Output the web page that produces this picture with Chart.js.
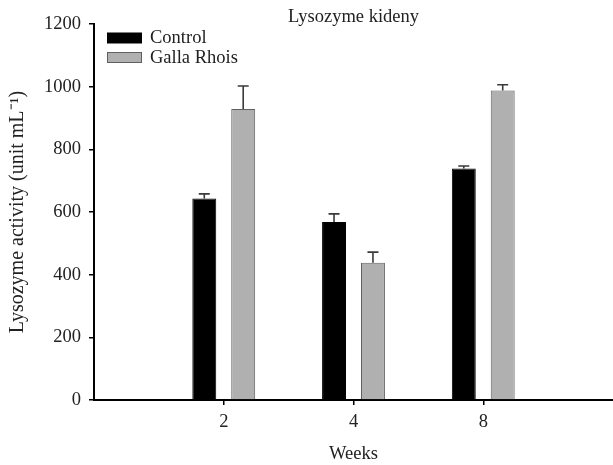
<!DOCTYPE html>
<html>
<head>
<meta charset="utf-8">
<script src="https://cdn.jsdelivr.net/npm/chart.js@4/dist/chart.umd.min.js"></script>
<style>
  html, body { margin: 0; padding: 0; background: #fff; }
  #wrap { width: 613px; height: 465px; position: relative; }
</style>
</head>
<body>
<div id="wrap"><canvas id="c" width="613" height="465"></canvas></div>
<script>
// ---- Data ----
const weeks = ['2', '4', '8'];
const weekPositions = [1, 2, 3];
const controlValues = [643, 568, 739];
const controlErrors = [15, 26, 8];
const gallaValues = [929, 438, 988];
const gallaErrors = [73, 34, 18];
const yTicks = [0, 200, 400, 600, 800, 1000, 1200];
const seriesNames = ['Control', 'Galla Rhois'];
const chartTitle = 'Lysozyme kideny';
const xTitle = 'Weeks';
const yTitle = 'Lysozyme activity (unit mL\u207B\u00B9)';

const FONT = '"Liberation Serif", "Times New Roman", serif';
const FS = 18.5;

const errorBarPlugin = {
  id: 'errorBars',
  afterDatasetsDraw(chart) {
    const ctx = chart.ctx;
    const yScale = chart.scales.y;
    chart.data.datasets.forEach((ds, di) => {
      const meta = chart.getDatasetMeta(di);
      meta.data.forEach((bar, i) => {
        const v = ds.data[i].y;
        const e = ds.errors[i];
        const yTop = yScale.getPixelForValue(v + e);
        const yBase = yScale.getPixelForValue(v);
        ctx.save();
        ctx.strokeStyle = '#3a3a3a';
        ctx.lineWidth = 1.6;
        ctx.beginPath();
        ctx.moveTo(bar.x, yBase);
        ctx.lineTo(bar.x, yTop);
        ctx.moveTo(bar.x - 5.5, yTop);
        ctx.lineTo(bar.x + 5.5, yTop);
        ctx.stroke();
        ctx.restore();
      });
    });
  }
};

const decorPlugin = {
  id: 'decor',
  afterDraw(chart) {
    const ctx = chart.ctx;
    const area = chart.chartArea;
    ctx.save();
    // title
    ctx.fillStyle = '#222';
    ctx.font = FS + 'px ' + FONT;
    ctx.textAlign = 'center';
    ctx.textBaseline = 'middle';
    ctx.fillText(chartTitle, (area.left + area.right) / 2, 17);
    // legend
    ctx.textAlign = 'left';
    const rows = [38, 57.5];
    chart.data.datasets.forEach((ds, i) => {
      const y = rows[i];
      ctx.fillStyle = ds.backgroundColor;
      ctx.fillRect(107.5, y - 5, 34, 10);
      ctx.strokeStyle = ds.borderColor;
      ctx.lineWidth = 1;
      ctx.strokeRect(107.5, y - 5, 34, 10);
      ctx.fillStyle = '#222';
      ctx.fillText(ds.label, 150, y + 0.5);
    });
    ctx.restore();
  }
};

new Chart(document.getElementById('c'), {
  type: 'bar',
  data: {
    datasets: [
      {
        label: seriesNames[0],
        data: weekPositions.map((x, i) => ({ x: x, y: controlValues[i] })),
        errors: controlErrors,
        backgroundColor: '#000000',
        borderColor: '#000000',
        borderWidth: 1,
        categoryPercentage: 0.6,
        barPercentage: 0.615
      },
      {
        label: seriesNames[1],
        data: weekPositions.map((x, i) => ({ x: x, y: gallaValues[i] })),
        errors: gallaErrors,
        backgroundColor: '#b0b0b0',
        borderColor: '#606060',
        borderWidth: 1,
        categoryPercentage: 0.6,
        barPercentage: 0.615
      }
    ]
  },
  options: {
    responsive: false,
    animation: false,
    devicePixelRatio: 1,
    layout: { padding: { top: 24, right: 0, left: 0, bottom: 0 } },
    plugins: {
      legend: { display: false },
      title: { display: false },
      tooltip: { enabled: false }
    },
    scales: {
      x: {
        type: 'linear',
        min: 0,
        max: 4,
        offset: false,
        afterBuildTicks(scale) {
          scale.ticks = weekPositions.map(v => ({ value: v }));
        },
        afterFit(scale) { scale.height = 65; },
        ticks: {
          callback(value) {
            const idx = weekPositions.indexOf(value);
            return idx >= 0 ? weeks[idx] : '';
          },
          color: '#222',
          font: { family: FONT, size: FS },
          padding: 6,
          maxRotation: 0,
          autoSkip: false
        },
        grid: {
          display: true,
          offset: false,
          drawOnChartArea: false,
          drawTicks: true,
          tickLength: 5,
          color: '#000',
          lineWidth: 1.5
        },
        border: { display: true, color: '#000', width: 2 },
        title: {
          display: true,
          text: xTitle,
          color: '#222',
          font: { family: FONT, size: FS },
          padding: { top: 8, bottom: 0 }
        }
      },
      y: {
        min: 0,
        max: 1200,
        afterBuildTicks(scale) {
          scale.ticks = yTicks.map(v => ({ value: v }));
        },
        afterFit(scale) { scale.width = 94; },
        ticks: {
          callback(value) { return String(value); },
          color: '#222',
          font: { family: FONT, size: FS },
          padding: 8
        },
        grid: {
          display: true,
          drawOnChartArea: false,
          drawTicks: true,
          tickLength: 5,
          color: '#000',
          lineWidth: 1.5
        },
        border: { display: true, color: '#000', width: 2 },
        title: {
          display: true,
          text: yTitle,
          color: '#222',
          font: { family: FONT, size: 20 },
          padding: { top: 6, bottom: 0 }
        }
      }
    }
  },
  plugins: [errorBarPlugin, decorPlugin]
});
</script>
</body>
</html>
